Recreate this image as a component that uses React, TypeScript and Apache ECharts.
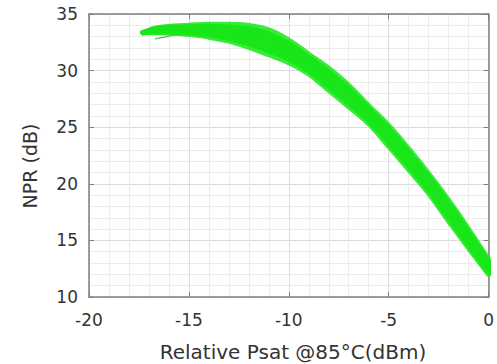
import React, { useEffect, useRef } from "react";
import * as echarts from "echarts";

// Relative Psat (dBm) sample positions shared by the traces
const xValues = [-17.3, -16.5, -15, -14, -13, -12, -11, -10, -9, -8, -7, -6, -5, -4, -3, -2, -1, 0];

const trace1 = [33.35, 33.8, 34.0, 34.1, 34.1, 34.0, 33.6, 32.7, 31.45, 30.2, 28.7, 26.9, 25.15, 23.1, 20.9, 18.55, 16.0, 13.3];
const trace2 = [33.35, 33.74, 33.88, 33.92, 33.86, 33.69, 33.25, 32.38, 31.17, 29.89, 28.4, 26.65, 24.86, 22.81, 20.62, 18.26, 15.73, 13.1];
const trace3 = [33.35, 33.66, 33.74, 33.72, 33.61, 33.36, 32.87, 32.04, 30.87, 29.56, 28.07, 26.37, 24.54, 22.49, 20.32, 17.94, 15.44, 12.87];
const trace4 = [33.35, 33.58, 33.6, 33.53, 33.35, 33.03, 32.5, 31.7, 30.58, 29.23, 27.75, 26.1, 24.23, 22.18, 20.03, 17.63, 15.15, 12.65];
const trace5 = [33.35, 33.49, 33.46, 33.33, 33.09, 32.69, 32.13, 31.36, 30.28, 28.89, 27.43, 25.83, 23.91, 21.86, 19.73, 17.31, 14.86, 12.43];
const trace6 = [33.35, 33.41, 33.32, 33.13, 32.84, 32.36, 31.75, 31.02, 29.98, 28.56, 27.1, 25.55, 23.6, 21.55, 19.43, 17.0, 14.57, 12.2];
const trace7 = [33.35, 33.35, 33.2, 32.95, 32.6, 32.05, 31.4, 30.7, 29.7, 28.25, 26.8, 25.3, 23.3, 21.25, 19.15, 16.7, 14.3, 12.0];
const traces = [trace1, trace2, trace3, trace4, trace5, trace6, trace7];

// a separate short trace below the band's left end
const strayX = [-16.7, -16.2, -15.7, -15.2];
const strayY = [32.8, 32.95, 33.15, 33.25];

const xTitle = "Relative Psat @85°C(dBm)";
const yTitle = "NPR (dB)";

const FONT = '"DejaVu Sans", "Liberation Sans", sans-serif';
const AXIS_COLOR = "#7f7f7f";
const TEXT_COLOR = "#333333";

export default function App() {
  const ref = useRef<HTMLDivElement>(null);

  useEffect(() => {
    if (!ref.current) return;
    const chart = echarts.init(ref.current, undefined, { renderer: "svg" });

    const mainX = {
      type: "value",
      min: -20,
      max: 0,
      interval: 5,
      position: "bottom",
      axisLine: { show: true, onZero: false, lineStyle: { color: AXIS_COLOR, width: 1.5 } },
      axisTick: { show: true, inside: true, length: 5, lineStyle: { color: AXIS_COLOR } },
      axisLabel: { fontFamily: FONT, fontSize: 17, color: TEXT_COLOR, margin: 14 },
      minorTick: { show: false, splitNumber: 5 },
      splitLine: { show: true, lineStyle: { color: "#dcdcdc", width: 1 } },
      minorSplitLine: { show: true, lineStyle: { color: "#ececec", width: 1 } },
    };
    const topX = {
      type: "value",
      min: -20,
      max: 0,
      interval: 5,
      position: "top",
      axisLine: { show: true, onZero: false, lineStyle: { color: AXIS_COLOR, width: 1.5 } },
      axisTick: { show: true, inside: true, length: 5, lineStyle: { color: AXIS_COLOR } },
      axisLabel: { show: false },
      splitLine: { show: false },
    };
    const mainY = {
      type: "value",
      min: 10,
      max: 35,
      interval: 5,
      position: "left",
      axisLine: { show: true, onZero: false, lineStyle: { color: AXIS_COLOR, width: 1.5 } },
      axisTick: { show: true, inside: true, length: 5, lineStyle: { color: AXIS_COLOR } },
      axisLabel: { fontFamily: FONT, fontSize: 17, color: TEXT_COLOR, margin: 11 },
      minorTick: { show: false, splitNumber: 5 },
      splitLine: { show: true, lineStyle: { color: "#dcdcdc", width: 1 } },
      minorSplitLine: { show: true, lineStyle: { color: "#ececec", width: 1 } },
    };
    const rightY = {
      type: "value",
      min: 10,
      max: 35,
      interval: 5,
      position: "right",
      axisLine: { show: true, onZero: false, lineStyle: { color: AXIS_COLOR, width: 1.5 } },
      axisTick: { show: true, inside: true, length: 5, lineStyle: { color: AXIS_COLOR } },
      axisLabel: { show: false },
      splitLine: { show: false },
    };

    const series: any[] = traces.map((t, k) => ({
      type: "line",
      xAxisIndex: 0,
      yAxisIndex: 0,
      data: xValues.map((x, i) => [x, t[i]]),
      showSymbol: false,
      smooth: 0.4,
      silent: true,
      lineStyle: {
        color: "#19e619",
        width: 5,
        cap: "round",
        join: "round",
        opacity: k === 0 || k === traces.length - 1 ? 0.85 : 1,
      },
      z: 3,
    }));
    series.push({
      type: "line",
      xAxisIndex: 0,
      yAxisIndex: 0,
      data: strayX.map((x, i) => [x, strayY[i]]),
      showSymbol: false,
      smooth: 0.4,
      silent: true,
      lineStyle: { color: "#5bb85b", width: 1.2 },
      z: 2,
    });

    chart.setOption({
      animation: false,
      backgroundColor: "#ffffff",
      grid: { left: 89, top: 14, width: 409, height: 283, containLabel: false },
      xAxis: [mainX, topX],
      yAxis: [mainY, rightY],
      series,
      graphic: [
        {
          type: "text",
          x: 30,
          y: 166,
          rotation: Math.PI / 2,
          silent: true,
          style: {
            text: yTitle,
            font: `19px ${FONT}`,
            fill: TEXT_COLOR,
            textAlign: "center",
            textVerticalAlign: "middle",
            align: "center",
            verticalAlign: "middle",
          },
        },
        {
          type: "text",
          x: 293,
          y: 352,
          silent: true,
          style: {
            text: xTitle,
            font: `20px ${FONT}`,
            fill: TEXT_COLOR,
            textAlign: "center",
            textVerticalAlign: "middle",
            align: "center",
            verticalAlign: "middle",
          },
        },
      ],
    });

    return () => chart.dispose();
  }, []);

  return (
    <div
      ref={ref}
      style={{ position: "fixed", left: 0, top: 0, width: 497, height: 364, background: "#fff" }}
    />
  );
}
